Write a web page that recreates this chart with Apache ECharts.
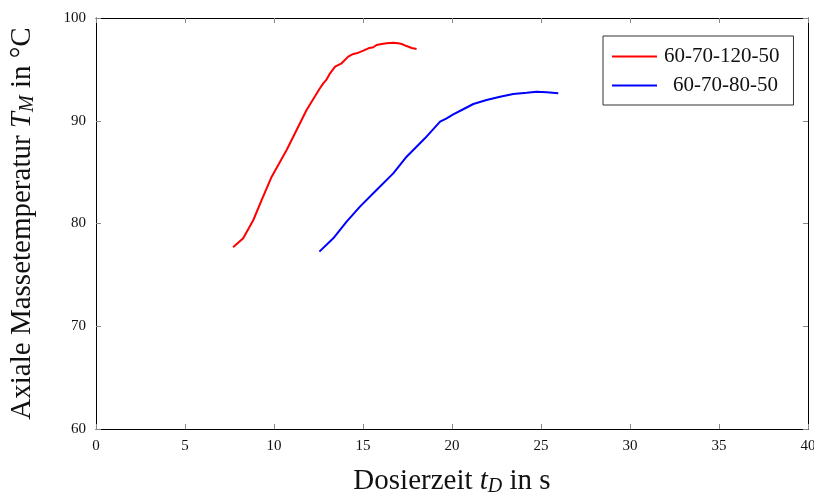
<!DOCTYPE html>
<html>
<head>
<meta charset="utf-8">
<script src="https://cdn.jsdelivr.net/npm/echarts@6/dist/echarts.min.js"></script>
<style>
  html, body { margin: 0; padding: 0; background: #fff; }
  #chart { width: 814px; height: 496px; }
</style>
</head>
<body>
<div id="chart"></div>
<script>
// Dosing time (s) and axial melt temperature (°C) for two profiles
const redName = '60-70-120-50';
const redTime = [7.70, 8.27, 8.84, 9.31, 9.87, 10.71, 11.27, 11.83, 12.58, 12.77, 12.96, 13.15, 13.43, 13.80, 14.17, 14.46, 14.64, 15.02, 15.30, 15.58, 15.76, 16.05, 16.33, 16.70, 16.98, 17.17, 17.45, 17.74, 18.01];
const redTemp = [77.7, 78.56, 80.34, 82.29, 84.56, 87.15, 89.10, 91.05, 93.16, 93.64, 94.03, 94.62, 95.26, 95.59, 96.24, 96.50, 96.56, 96.82, 97.05, 97.15, 97.37, 97.47, 97.54, 97.60, 97.54, 97.47, 97.27, 97.08, 96.98];

const blueName = '60-70-80-50';
const blueTime = [12.55, 13.33, 14.08, 14.83, 15.76, 16.70, 17.45, 18.48, 19.33, 19.70, 20.07, 20.63, 21.20, 21.94, 22.70, 23.44, 24.20, 24.75, 25.32, 25.97];
const blueTemp = [77.26, 78.56, 80.18, 81.64, 83.26, 84.88, 86.50, 88.29, 89.91, 90.24, 90.62, 91.12, 91.63, 92.02, 92.34, 92.60, 92.73, 92.83, 92.77, 92.67];

const xMin = 0, xMax = 40, xStep = 5;
const yMin = 60, yMax = 100, yStep = 10;

const serif = '"Liberation Serif", "DejaVu Serif", serif';
const pairs = (xs, ys) => xs.map((x, i) => [x, ys[i]]);

const tickStyle = { show: true, inside: true, length: 5, lineStyle: { color: '#888', width: 1 } };
const frameLine = { show: true, onZero: false, lineStyle: { color: '#000', width: 1 } };

const titleRich = {
  n: { fontFamily: serif, fontSize: 29, color: '#111', lineHeight: 32 },
  it: { fontFamily: serif, fontSize: 29, fontStyle: 'italic', color: '#111', lineHeight: 32 },
  sub: { fontFamily: serif, fontSize: 20, fontStyle: 'italic', color: '#111', lineHeight: 16, verticalAlign: 'bottom' }
};

const chart = echarts.init(document.getElementById('chart'), null, { renderer: 'canvas' });
chart.setOption({
  animation: false,
  backgroundColor: '#fff',
  grid: { left: 96, right: 6, top: 18, bottom: 67, outerBoundsMode: 'none', containLabel: false },
  legend: {
    left: 603, top: 36,
    orient: 'vertical',
    data: [
      { name: redName, icon: 'rect' },
      { name: blueName, icon: 'rect' }
    ],
    itemWidth: 45, itemHeight: 2, itemGap: 8,
    padding: [10, 14, 9, 9],
    borderColor: '#333', borderWidth: 1,
    backgroundColor: '#fff',
    formatter: name => name === blueName ? '{shift|' + name + '}' : name,
    textStyle: {
      fontFamily: serif, fontSize: 21, color: '#111', padding: [0, 0, 0, 2],
      rich: { shift: { fontFamily: serif, fontSize: 21, color: '#111', padding: [0, 0, 0, 9] } }
    }
  },
  xAxis: [
    {
      type: 'value', min: xMin, max: xMax, interval: xStep, position: 'bottom',
      axisLine: frameLine, axisTick: tickStyle, splitLine: { show: false },
      axisLabel: { fontFamily: serif, fontSize: 15, color: '#111', margin: 10 },
      name: '{n|Dosierzeit }{it|t}{sub|D}{n| in s}',
      nameLocation: 'middle', nameGap: 36,
      nameTextStyle: { rich: titleRich }
    },
    {
      type: 'value', min: xMin, max: xMax, interval: xStep, position: 'top',
      axisLine: frameLine, axisTick: tickStyle, splitLine: { show: false },
      axisLabel: { show: false }
    }
  ],
  yAxis: [
    {
      type: 'value', min: yMin, max: yMax, interval: yStep, position: 'left',
      axisLine: frameLine, axisTick: tickStyle, splitLine: { show: false },
      axisLabel: { fontFamily: serif, fontSize: 15, color: '#111', margin: 10 },
      name: '{n|Axiale Massetemperatur }{it|T}{sub|M}{n| in °C}',
      nameLocation: 'middle', nameGap: 58, nameRotate: 90,
      nameTextStyle: { rich: titleRich }
    },
    {
      type: 'value', min: yMin, max: yMax, interval: yStep, position: 'right',
      axisLine: frameLine, axisTick: tickStyle, splitLine: { show: false },
      axisLabel: { show: false }
    }
  ],
  series: [
    {
      name: redName, type: 'line', xAxisIndex: 0, yAxisIndex: 0,
      data: pairs(redTime, redTemp), showSymbol: false, smooth: false,
      lineStyle: { color: '#ff0000', width: 2 }, itemStyle: { color: '#ff0000' }
    },
    {
      name: blueName, type: 'line', xAxisIndex: 0, yAxisIndex: 0,
      data: pairs(blueTime, blueTemp), showSymbol: false, smooth: false,
      lineStyle: { color: '#0000ff', width: 2 }, itemStyle: { color: '#0000ff' }
    }
  ]
});
</script>
</body>
</html>
